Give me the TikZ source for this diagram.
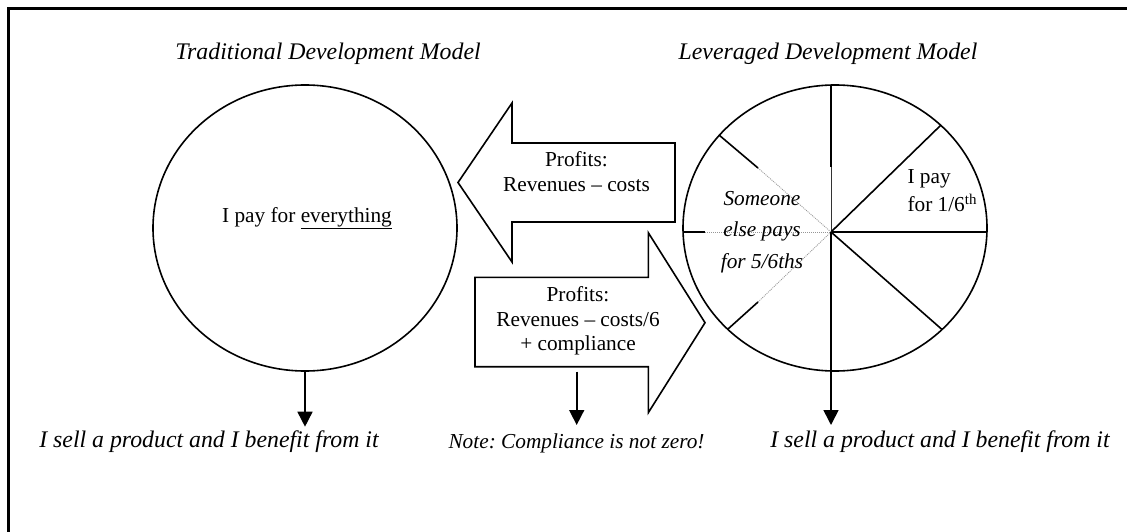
\documentclass[tikz,border=0pt]{standalone}
\usepackage{fontspec}
\setmainfont{Liberation Serif}
\usetikzlibrary{arrows.meta,shapes.geometric}
\definecolor{faintgray}{RGB}{150,150,150}
\frenchspacing
\begin{document}
\begin{tikzpicture}[x=1pt,y=-1pt,
  ttl/.style={font=\fontsize{23.8}{28}\selectfont\itshape, inner sep=0, anchor=base},
  body/.style={font=\fontsize{21.3}{25}\selectfont, inner sep=0, anchor=base},
  bodyit/.style={font=\fontsize{21.3}{25}\selectfont\itshape, inner sep=0, anchor=base},
  circ/.style={ellipse, draw, line width=1.6pt, minimum width=304pt, minimum height=286pt, inner sep=0},
  bigarrow/.style={draw, line width=1.6pt, line join=miter},
  spoke/.style={line width=1.6pt},
  faint/.style={draw=faintgray, line width=0.8pt, dash pattern=on 1pt off 1pt},
  downarrow/.style={line width=1.6pt, -{Triangle[width=15pt,length=15pt]}},
]
\useasboundingbox (0,0) rectangle (1127,532);
% frame
\draw[line width=2.5pt] (8.5,545) -- (8.5,8.5) -- (1140,8.5);

% titles
\node[ttl] (titleL) at (328,60) {Traditional Development Model};
\node[ttl] (titleR) at (828,60) {Leveraged Development Model};

% left circle
\node[circ] (cL) at (305,228) {};
\node[body] (payall) at (307,222) {I pay for \underline{everything}};
\coordinate (tipL) at (305,426.7);
\draw[downarrow] (cL.south) -- (tipL);
\node[ttl] (sellL) at (209,447) {I sell a product and I benefit from it};

% right circle
\node[circ] (cR) at (835,228) {};
\coordinate (hub) at (831,232);
\coordinate (top) at (831,85);
\coordinate (topthin) at (831,167);
\coordinate (ur) at (941,125);
\coordinate (rr) at (987,232);
\coordinate (lr) at (942,329.5);
\coordinate (ul) at (719,135);
\coordinate (ulin) at (758,168);
\coordinate (ll) at (728,329);
\coordinate (llin) at (758,302);
\coordinate (lh) at (683,232);
\coordinate (lhin) at (705,232);
\draw[spoke] (top) -- (topthin);
\draw[line width=0.8pt, black!80] (topthin) -- (hub);
\draw[spoke] (hub) -- (ur);
\draw[spoke] (hub) -- (rr);
\draw[spoke] (hub) -- (lr);
\draw[spoke] (ul) -- (ulin);
\draw[spoke] (ll) -- (llin);
\draw[spoke] (lh) -- (lhin);
\draw[faint] (ulin) -- (hub);
\draw[faint] (llin) -- (hub);
\draw[faint] (lhin) -- (hub);
\coordinate (tipR) at (831,425);
\draw[downarrow] (hub) -- (tipR);
\node[ttl] (sellR) at (940,447) {I sell a product and I benefit from it};

\node[body, anchor=base west] (ipay1) at (907.3,183.3) {I pay};
\node[body, anchor=base west] (ipay2) at (907.3,211.7) {for 1/6\textsuperscript{th}};
\node[bodyit] (else1) at (762,205) {Someone};
\node[bodyit] (else2) at (762,236.5) {else pays};
\node[bodyit] (else3) at (762,268) {for 5/6ths};

% left-pointing big arrow
\draw[bigarrow] (675,143) -- (512,143) -- (512,103) -- (458,182.5) -- (512,262) -- (512,222) -- (675,222) -- cycle;
\node[body] (pa1) at (576.5,166.7) {Profits:};
\node[body] (pa2) at (576.5,191.7) {Revenues – costs};

% right-pointing big arrow
\draw[bigarrow] (475,277.3) -- (648.3,277.3) -- (648.3,232.7) -- (705,322.7) -- (648.3,412.7) -- (648.3,366.7) -- (475,366.7) -- cycle;
\node[body] (pb1) at (578,301.7) {Profits:};
\node[body] (pb2) at (578,326) {Revenues – costs/6};
\node[body] (pb3) at (578,350) {+ compliance};

\coordinate (noteStart) at (576.7,371.7);
\coordinate (tipN) at (576.7,425);
\draw[downarrow] (noteStart) -- (tipN);
\node[bodyit] (note) at (576.5,448) {Note: Compliance is not zero!};
\end{tikzpicture}
\end{document}
